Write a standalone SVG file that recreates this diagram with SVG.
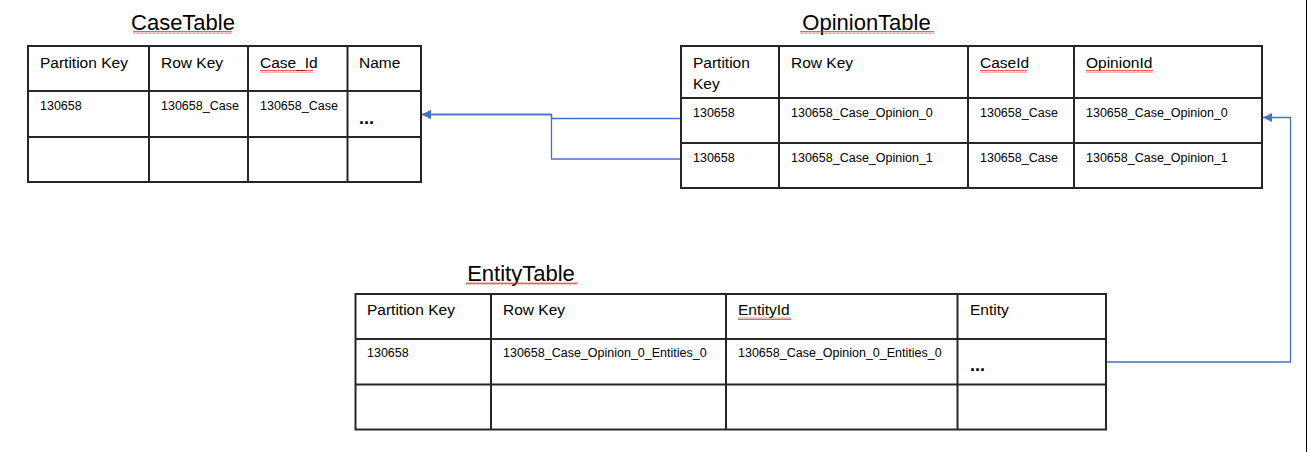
<svg xmlns="http://www.w3.org/2000/svg" width="1308" height="452" viewBox="0 0 1308 452">
<style>
.grid{fill:none;stroke:#262626;stroke-width:2}
.title{font-family:"Liberation Sans",Arial,sans-serif;font-size:22px;fill:#000;text-anchor:middle}
.hd{font-family:"Liberation Sans",Arial,sans-serif;font-size:15.5px;fill:#000}
.dt{font-family:"Liberation Sans",Arial,sans-serif;font-size:12.5px;fill:#000}
.dots{font-family:"Liberation Sans",Arial,sans-serif;font-size:18px;font-weight:bold;fill:#000}
.conn{fill:none;stroke:#4472C4;stroke-width:1.3}
.sq{fill:url(#squig)}
</style>
<defs>
<marker id="arr" viewBox="0 0 10 10" refX="10" refY="5" markerWidth="9" markerHeight="9" markerUnits="userSpaceOnUse" orient="auto">
<path d="M0,0 L10,5 L0,10 Z" fill="#4472C4"/>
</marker>
<pattern id="squig" width="4" height="3" patternUnits="userSpaceOnUse">
<polyline points="0,2.5 1,0.5 2,2.5 3,0.5 4,2.5" fill="none" stroke="#e02020" stroke-width="0.7"/>
</pattern>
</defs>
<rect width="1308" height="452" fill="#fff"/>
<line x1="1306.5" y1="0" x2="1306.5" y2="452" stroke="#000" stroke-width="1"/>

<g id="caseTable">
<text class="title" x="183" y="30">CaseTable</text>
<rect class="sq" x="133" y="31" width="99" height="3"/>
<rect class="grid" x="28" y="46" width="393" height="136"/>
<path class="grid" d="M28,91 H421 M28,137 H421 M149,46 V182 M248,46 V182 M347.5,46 V182"/>
<text class="hd" x="40" y="68">Partition Key</text>
<text class="hd" x="161" y="68">Row Key</text>
<text class="hd" x="260" y="68">Case_Id</text>
<rect class="sq" x="260" y="70" width="53" height="3"/>
<text class="hd" x="359" y="68">Name</text>
<text class="dt" x="40" y="110">130658</text>
<text class="dt" x="161" y="110">130658_Case</text>
<text class="dt" x="260" y="110">130658_Case</text>
<text class="dots" x="359" y="124">...</text>
</g>

<g id="opinionTable">
<text class="title" x="866.5" y="30">OpinionTable</text>
<rect class="sq" x="800" y="31" width="134" height="3"/>
<rect class="grid" x="681" y="46" width="581" height="142"/>
<path class="grid" d="M681,98 H1262 M681,143 H1262 M779,46 V188 M968,46 V188 M1074,46 V188"/>
<text class="hd" x="693" y="68">Partition</text>
<text class="hd" x="693" y="89">Key</text>
<text class="hd" x="791" y="68">Row Key</text>
<text class="hd" x="980" y="68">CaseId</text>
<rect class="sq" x="980" y="70" width="47" height="3"/>
<text class="hd" x="1086" y="68">OpinionId</text>
<rect class="sq" x="1086" y="70" width="67" height="3"/>
<text class="dt" x="693" y="117">130658</text>
<text class="dt" x="791" y="117">130658_Case_Opinion_0</text>
<text class="dt" x="980" y="117">130658_Case</text>
<text class="dt" x="1086" y="117">130658_Case_Opinion_0</text>
<text class="dt" x="693" y="162">130658</text>
<text class="dt" x="791" y="162">130658_Case_Opinion_1</text>
<text class="dt" x="980" y="162">130658_Case</text>
<text class="dt" x="1086" y="162">130658_Case_Opinion_1</text>
</g>

<g id="entityTable">
<text class="title" x="521" y="281">EntityTable</text>
<rect class="sq" x="466" y="282" width="111" height="3"/>
<rect class="grid" x="355.5" y="294" width="750.5" height="135.5"/>
<path class="grid" d="M355.5,339 H1106 M355.5,384.5 H1106 M491,294 V429.5 M726,294 V429.5 M957.5,294 V429.5"/>
<text class="hd" x="367" y="315">Partition Key</text>
<text class="hd" x="503" y="315">Row Key</text>
<text class="hd" x="738" y="315">EntityId</text>
<rect class="sq" x="738" y="317" width="53" height="3"/>
<text class="hd" x="970" y="315">Entity</text>
<text class="dt" x="367" y="357">130658</text>
<text class="dt" x="503" y="357">130658_Case_Opinion_0_Entities_0</text>
<text class="dt" x="738" y="357">130658_Case_Opinion_0_Entities_0</text>
<text class="dots" x="970" y="371">...</text>
</g>

<g id="connectors">
<path class="conn" d="M680,118.5 H551.5 V114.5 H422" marker-end="url(#arr)"/>
<path class="conn" d="M680,159 H551.5 V114.5 H422" marker-end="url(#arr)"/>
<path class="conn" d="M1107,362 H1290.5 V117.5 H1263" marker-end="url(#arr)"/>
</g>
</svg>
